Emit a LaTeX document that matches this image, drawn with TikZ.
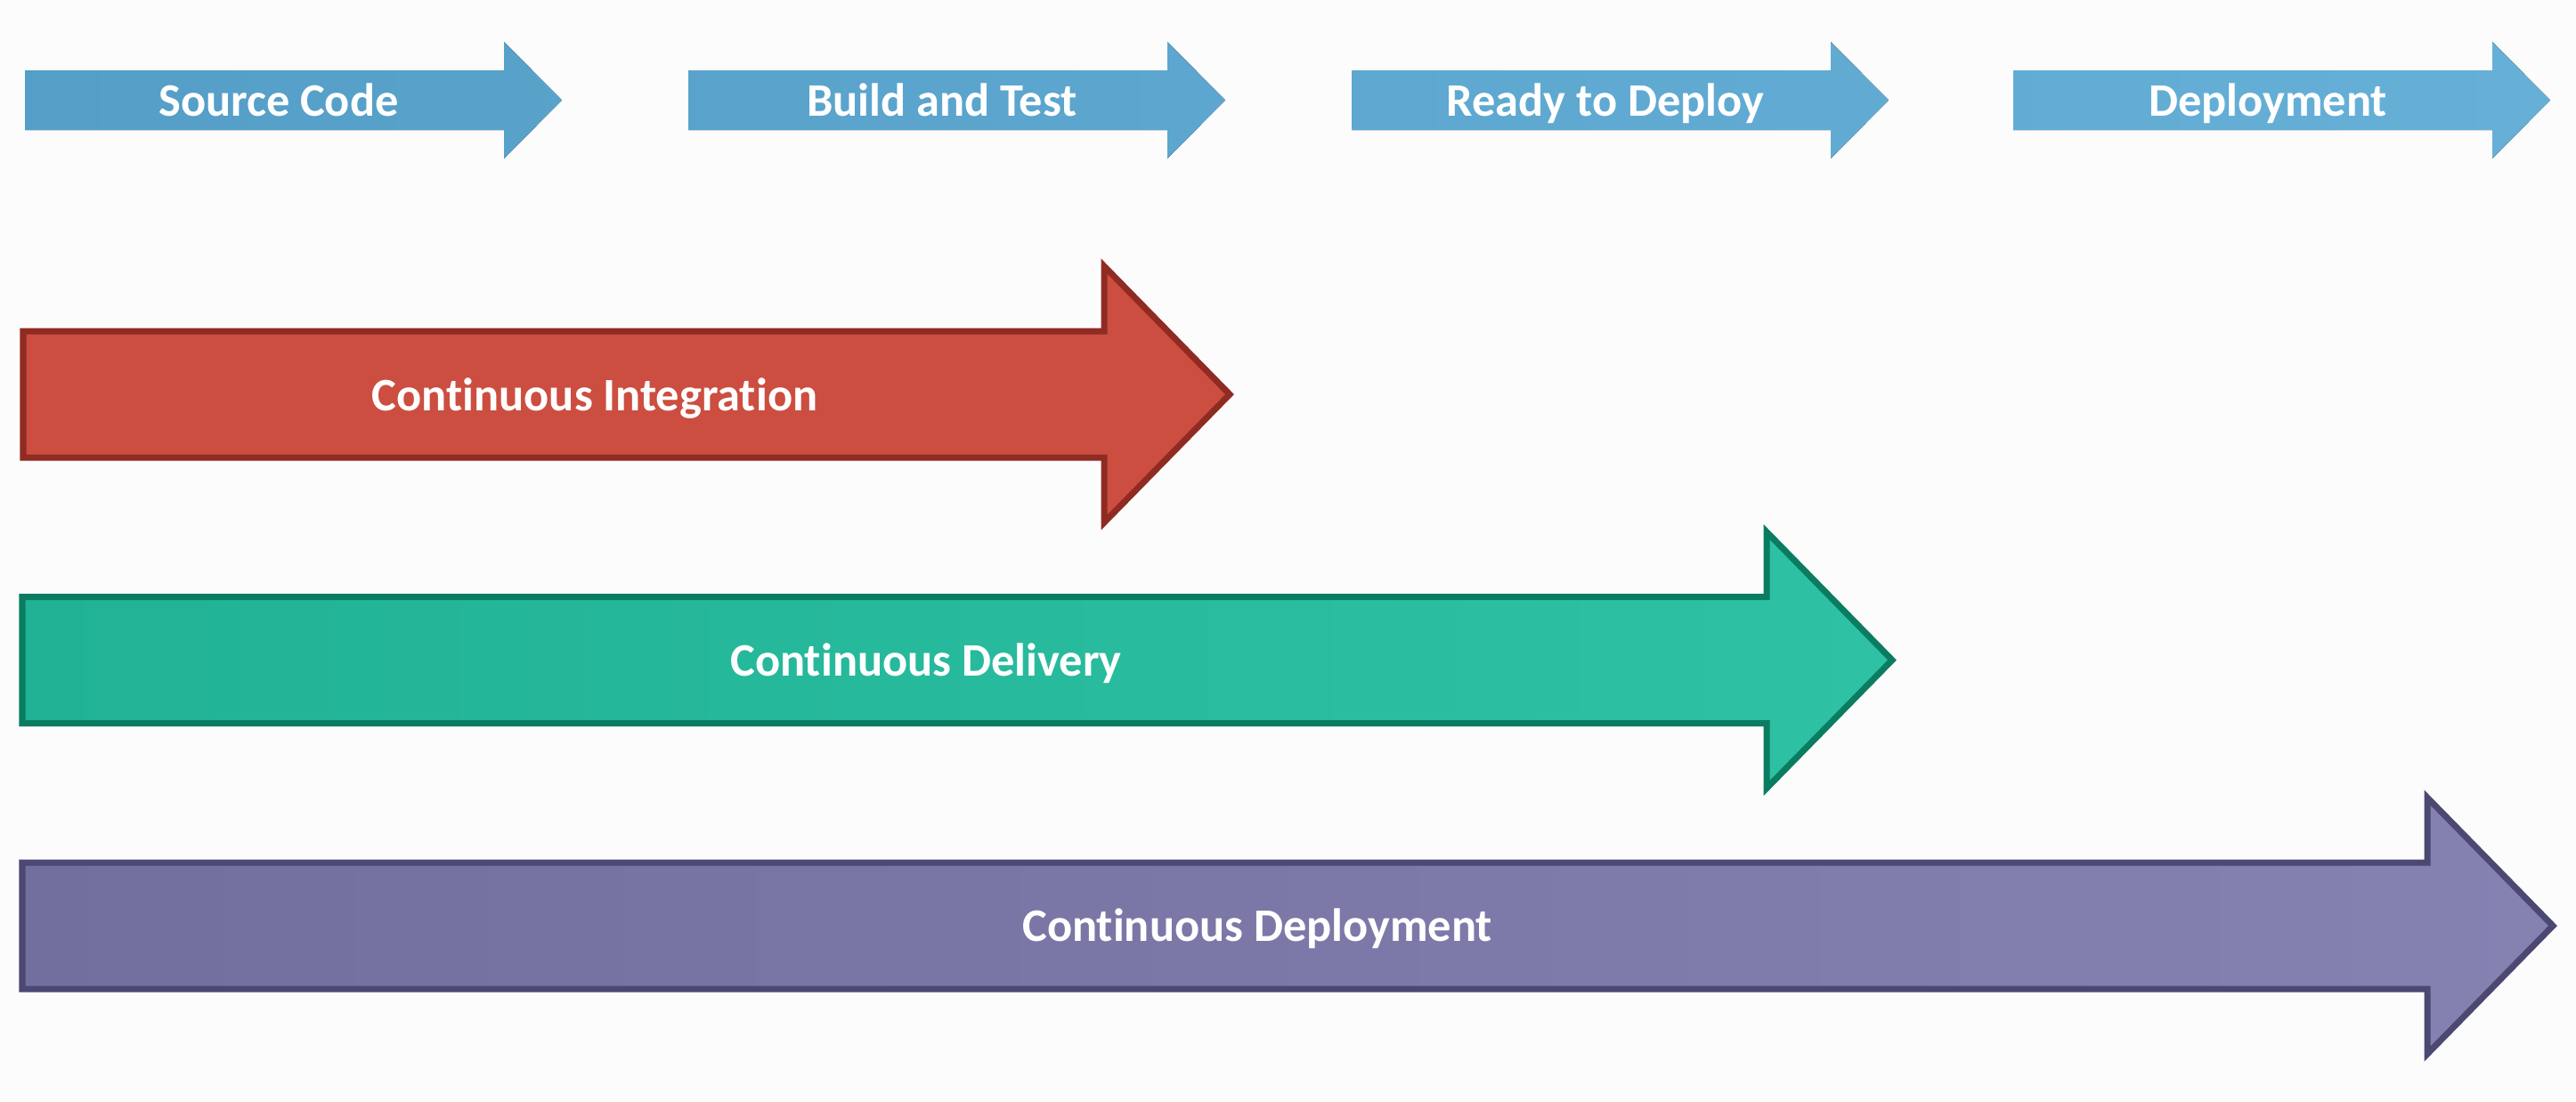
\documentclass[tikz,border=0pt]{standalone}
\usepackage{fontspec}
\setmainfont{Carlito}[Ligatures=NoCommon]
\definecolor{bgcol}{HTML}{FCFCFC}
\definecolor{stageL}{HTML}{549EC7}
\definecolor{stageR}{HTML}{66B0D8}
\definecolor{ciFill}{HTML}{CC4E40}
\definecolor{ciLine}{HTML}{8F2B22}
\definecolor{cdFillL}{HTML}{21B295}
\definecolor{cdFillR}{HTML}{2EC1A3}
\definecolor{cdLine}{HTML}{0A7C62}
\definecolor{cpFillL}{HTML}{726F9F}
\definecolor{cpFillR}{HTML}{8581B1}
\definecolor{cpLine}{HTML}{4B4872}
\begin{document}
\begin{tikzpicture}[x=1cm, y=-1cm,
		arrowtext/.style={text=white, anchor=base, inner sep=0pt, font=\fontsize{14.9}{18}\selectfont\bfseries},
		bigarrow/.style={line width=2pt, line join=miter}]
			\fill[bgcol] (0,0) rectangle (28.93,12.37);
			\useasboundingbox (0,0) rectangle (28.93,12.37);
			\fill[left color=stageL, right color=stageR]
				(0.28,0.79) -- (5.66,0.79) -- (5.66,0.47) -- (6.31,1.125) -- (5.66,1.78) -- (5.66,1.46) -- (0.28,1.46) -- cycle
				(7.73,0.79) -- (13.11,0.79) -- (13.11,0.47) -- (13.76,1.125) -- (13.11,1.78) -- (13.11,1.46) -- (7.73,1.46) -- cycle
				(15.18,0.79) -- (20.56,0.79) -- (20.56,0.47) -- (21.21,1.125) -- (20.56,1.78) -- (20.56,1.46) -- (15.18,1.46) -- cycle
				(22.61,0.79) -- (27.99,0.79) -- (27.99,0.47) -- (28.64,1.125) -- (27.99,1.78) -- (27.99,1.46) -- (22.61,1.46) -- cycle;
			\node[arrowtext] (src) at (3.13,1.30) {Source Code};
			\node[arrowtext] (build) at (10.58,1.30) {Build and Test};
			\node[arrowtext] (ready) at (18.03,1.30) {Ready to Deploy};
			\node[arrowtext] (deploy) at (25.47,1.30) {Deployment};
			\filldraw[bigarrow, fill=ciFill, draw=ciLine] (0.26,3.72) -- (12.40,3.72) -- (12.40,2.99) -- (13.81,4.43) -- (12.40,5.87) -- (12.40,5.14) -- (0.26,5.14) -- cycle;
			\node[arrowtext] (ci) at (6.68,4.61) {Continuous Integration};
			\filldraw[bigarrow, left color=cdFillL, right color=cdFillR, draw=cdLine] (0.25,6.705) -- (19.84,6.705) -- (19.84,5.975) -- (21.25,7.415) -- (19.84,8.855) -- (19.84,8.125) -- (0.25,8.125) -- cycle;
			\node[arrowtext] (cd) at (10.40,7.59) {Continuous Delivery};
			\filldraw[bigarrow, left color=cpFillL, right color=cpFillR, draw=cpLine] (0.25,9.69) -- (27.26,9.69) -- (27.26,8.96) -- (28.67,10.40) -- (27.26,11.84) -- (27.26,11.11) -- (0.25,11.11) -- cycle;
			\node[arrowtext] (cp) at (14.12,10.57) {Continuous Deployment};
		\end{tikzpicture}
\end{document}
